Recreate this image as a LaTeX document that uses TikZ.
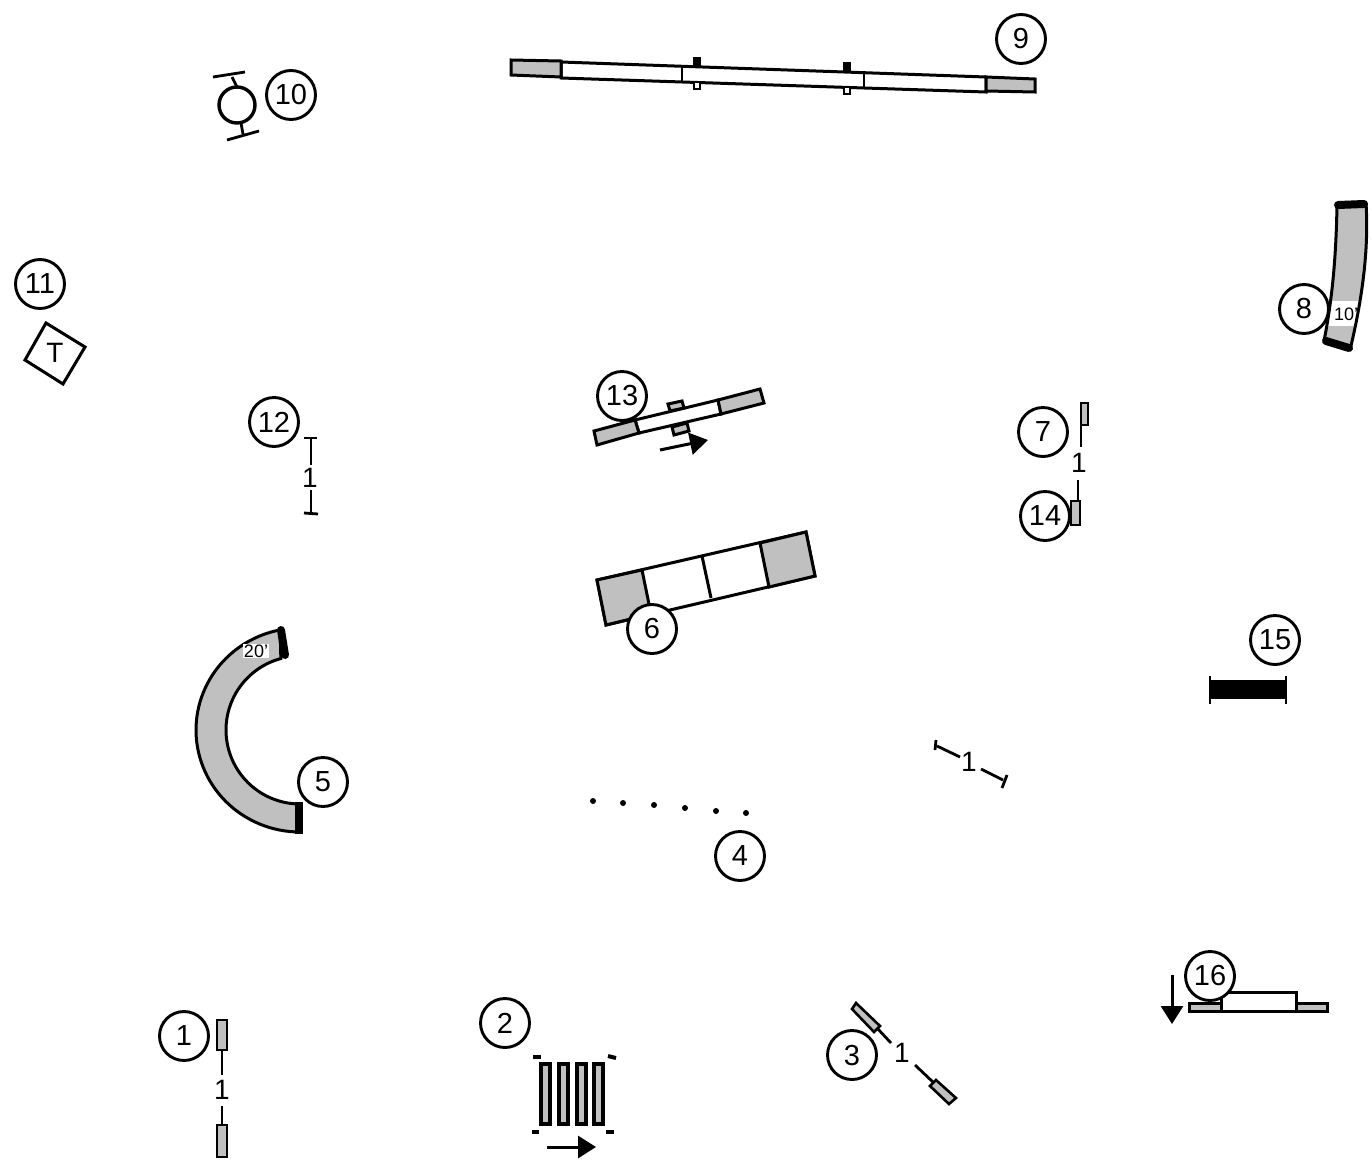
\documentclass[tikz,border=0pt]{standalone}
\usepackage{fontspec}
\setmainfont{Liberation Sans}
\usetikzlibrary{arrows.meta}
\definecolor{fillgrey}{RGB}{192,192,192}
\tikzset{
  num/.style={circle,draw=black,line width=2.9pt,fill=white,minimum size=49pt,inner sep=0pt,font=\fontsize{29}{29}\selectfont},
  gear/.style={draw=black,line width=3pt,line join=miter},
  greypart/.style={gear,fill=fillgrey},
  whitepart/.style={gear,fill=white},
  thinline/.style={draw=black,line width=2.8pt},
  marklabel/.style={inner sep=0pt,font=\fontsize{28}{28}\selectfont},
  dirarrow/.style={draw=black,line width=3pt,-{Triangle[length=18pt,width=22pt]}},
  capline/.style={draw=black,line width=8pt,line cap=round},
  conedot/.style={circle,fill=black,inner sep=0pt,minimum size=6pt},
  conedash/.style={draw=black,line width=4pt}
}
\begin{document}
\begin{tikzpicture}[x=1pt,y=-1pt]
\useasboundingbox (0,0) rectangle (1372,1162);
% 9 dog walk
\path[whitepart] (561,62) -- (986,77) -- (986,92) -- (561,78) -- cycle;
\path[greypart] (511,60) -- (561,61) -- (561,77) -- (511,75) -- cycle;
\path[greypart] (986,77) -- (1035,79) -- (1035,92) -- (986,91) -- cycle;
\draw[thinline] (682,67) -- (682,82);
\draw[thinline] (864,72) -- (864,87);
\fill (693,57) rectangle (701,67);
\fill (843,62) rectangle (851,72);
\path[whitepart,line width=2.4pt] (694,82) rectangle (700,89);
\path[whitepart,line width=2.4pt] (844,87) rectangle (850,94);
% 10 jump
\draw[gear,line width=3.4pt] (237,105) circle[radius=18];
\draw[thinline] (237,87) -- (232,77);
\draw[thinline] (213,77) -- (245,72);
\draw[thinline] (241,123) -- (243,134);
\draw[thinline] (227,140) -- (259,131);
% 11 table
\path[whitepart] (46,323) -- (85,347) -- (63,384) -- (25,360) -- cycle;
\node[marklabel] (tlabel) at (55,353) {T};
% 12 hurdle
\draw[thinline] (311,438) -- (311,465);
\draw[thinline] (311,490) -- (311,514);
\draw[thinline] (304,438) -- (317,438);
\draw[thinline] (304,513) -- (318,514);
\node[marklabel] (hlabel) at (310,478) {1};
% 5 curved tunnel
\path[greypart] plot[domain=90:259,samples=60] ({300+104*cos(\x)},{730+102*sin(\x)})
  -- plot[domain=255:90,samples=60] ({300+74*cos(\x)},{730+74*sin(\x)}) -- cycle;
\draw[capline,line cap=butt] (299,802) -- (299,834);
\draw[capline] (281,630) -- (285,655);
\node[fill=white,inner sep=1pt,font=\fontsize{18}{18}\selectfont,text depth=0pt] (tunnelA) at (256,651) {20'};
% 8 tunnel
\path[fill=fillgrey] (1337,205) -- (1366,203) .. controls (1369,250) and (1362,300) .. (1350,350)
  -- (1324,341) .. controls (1332,300) and (1336,260) .. (1337,205) -- cycle;
\begin{scope}
\clip (1337,205) -- (1366,203) .. controls (1369,250) and (1362,300) .. (1350,350)
  -- (1324,341) .. controls (1332,300) and (1336,260) .. (1337,205) -- cycle;
\fill[white] (1320,301) rectangle (1372,326);
\end{scope}
\draw[gear] (1366,203) .. controls (1369,250) and (1362,300) .. (1350,350);
\draw[gear] (1324,341) .. controls (1332,300) and (1336,260) .. (1337,205);
\node[inner sep=0pt,font=\fontsize{18}{18}\selectfont] (tunnelB) at (1346,314) {10'};
\draw[capline] (1338,205) -- (1364,204);
\draw[capline] (1326,341) -- (1349,348);
% 13 teeter
\path[whitepart] (635,420) -- (718,400) -- (721,414) -- (639,433) -- cycle;
\path[greypart] (594,431) -- (635,420) -- (639,433) -- (597,445) -- cycle;
\path[greypart] (718,400) -- (760,389) -- (764,403) -- (721,414) -- cycle;
\path[greypart] (668,404) -- (682,401) -- (684,408) -- (670,411) -- cycle;
\path[greypart] (672,427) -- (687,423) -- (689,431) -- (674,435) -- cycle;
\coordinate (tA) at (660,450);
\coordinate (tB) at (708,440);
\draw[dirarrow] (tA) -- (tB);
% 6 A-frame
\path[whitepart] (597,580) -- (806,532) -- (815,576) -- (606,625) -- cycle;
\path[greypart] (597,580) -- (642,570) -- (651,614) -- (606,625) -- cycle;
\path[greypart] (760,543) -- (806,532) -- (815,576) -- (769,587) -- cycle;
\draw[gear] (702,556) -- (711,598);
% 7 and 14 gate
\path[greypart,line width=2.4pt] (1081,403) -- (1088,403) -- (1088,425) -- (1081,425) -- cycle;
\draw[thinline] (1081,425) -- (1081,447);
\node[marklabel] (glabel) at (1079,463) {1};
\draw[thinline] (1078,480) -- (1078,526);
\path[greypart,line width=2.4pt] (1071,501) -- (1080,501) -- (1080,525) -- (1071,525) -- cycle;
% 15 closed tunnel
\fill (1210,680) rectangle (1286,699);
\draw[thinline] (1210,676) -- (1210,704);
\draw[thinline] (1286,676) -- (1286,704);
% unlabelled hurdle
\draw[thinline] (937,746) -- (960,757);
\draw[thinline] (936,740) -- (935,750);
\draw[thinline] (981,769) -- (1003,780);
\draw[thinline] (1007,775) -- (1002,788);
\node[marklabel] (wlabel) at (969,762) {1};
% 4 weave
\node[conedot] (w1) at (593,801) {};
\node[conedot] (w2) at (623,803) {};
\node[conedot] (w3) at (654,805) {};
\node[conedot] (w4) at (685,808) {};
\node[conedot] (w5) at (716,811) {};
\node[conedot] (w6) at (746,813) {};
% 16 wing jump
\path[whitepart] (1221,992) -- (1296,992) -- (1296,1011) -- (1221,1011) -- cycle;
\path[greypart] (1189,1003) rectangle (1221,1011);
\path[greypart] (1296,1003) rectangle (1327,1011);
\coordinate (dA) at (1172,975);
\coordinate (dB) at (1172,1024);
\draw[dirarrow] (dA) -- (dB);
% 3 gate
\path[greypart,line width=2.6pt] (856,1003) -- (880,1026) -- (874,1032) -- (852,1009) -- cycle;
\draw[thinline] (877,1028) -- (891,1043);
\node[marklabel] (dlabel) at (902,1053) {1};
\draw[thinline] (915,1065) -- (935,1084);
\path[greypart,line width=2.6pt] (936,1080) -- (956,1098) -- (949,1104) -- (930,1086) -- cycle;
% 1 gate
\path[greypart,line width=2.6pt] (217,1020) rectangle (227,1050);
\draw[thinline] (222,1050) -- (222,1075);
\node[marklabel] (alabel) at (222,1090) {1};
\draw[thinline] (222,1106) -- (222,1125);
\path[greypart,line width=2.6pt] (217,1125) rectangle (227,1157);
% 2 tyre
\foreach \xa in {541,559,577,594}{
  \path[greypart,line width=3.6pt] (\xa,1064) rectangle ({\xa+9},1124);
}
\draw[conedash] (533,1057) -- (541,1057);
\draw[conedash] (608,1056) -- (616,1058);
\draw[conedash] (532,1132) -- (539,1132);
\draw[conedash] (606,1132) -- (614,1132);
\coordinate (rA) at (547,1147);
\coordinate (rB) at (596,1147);
\draw[dirarrow] (rA) -- (rB);
% numbers
\node[num] (n1) at (184,1036) {1};
\node[num] (n2) at (505,1023) {2};
\node[num] (n3) at (852,1055) {3};
\node[num] (n4) at (740,856) {4};
\node[num] (n5) at (323,782) {5};
\node[num] (n6) at (652,629) {6};
\node[num] (n7) at (1043,432) {7};
\node[num] (n8) at (1304,309) {8};
\node[num] (n9) at (1021,39) {9};
\node[num] (n10) at (291,95) {10};
\node[num] (n11) at (40,284) {11};
\node[num] (n12) at (274,422) {12};
\node[num] (n13) at (622,396) {13};
\node[num] (n14) at (1045,516) {14};
\node[num] (n15) at (1275,640) {15};
\node[num] (n16) at (1210,976) {16};
\end{tikzpicture}
\end{document}
